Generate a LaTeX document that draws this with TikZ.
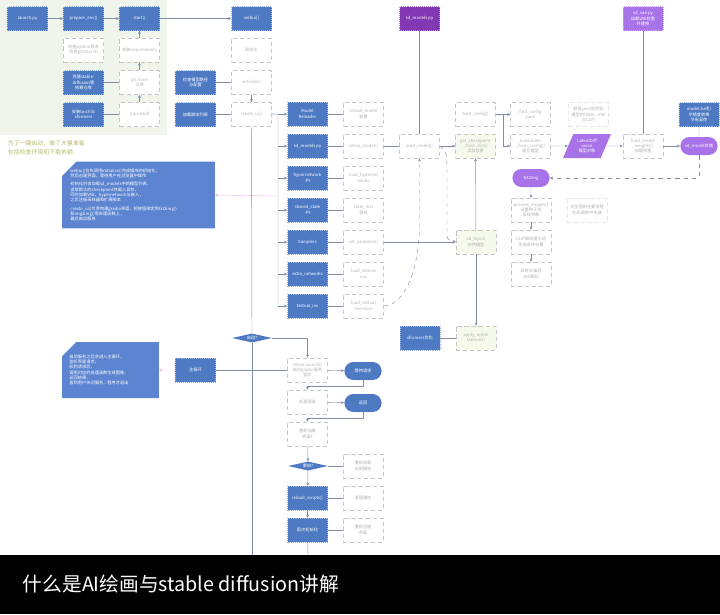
\documentclass[tikz,border=0pt]{standalone}
\usepackage{fontspec}
\setmainfont{Noto Sans CJK SC}
\usetikzlibrary{positioning, arrows.meta, shapes.geometric, shapes.misc}
\definecolor{SdBlue}{RGB}{78,122,196}
\definecolor{NoteBlue}{RGB}{92,132,208}
\definecolor{DeepPurple}{RGB}{130,56,178}
\definecolor{SdPurple}{RGB}{168,114,232}
\definecolor{LinkGray}{RGB}{126,140,168}
\definecolor{LiteGreen}{RGB}{246,250,236}
\definecolor{PanelGreen}{RGB}{239,245,235}
\definecolor{OliveText}{RGB}{184,186,110}
\definecolor{PinkLink}{RGB}{236,130,206}
\newcommand\tx{\fontsize{3}{3.8}\selectfont}
\tikzset{
  bluebox/.style={draw=SdBlue!55, densely dotted, fill=SdBlue, text=white, minimum width=1cm,
    minimum height=0.6cm, inner sep=1pt, align=center, font=\tx},
  litebox/.style={draw=gray!45, densely dashed, fill=white, text=gray!60, minimum width=1cm,
    minimum height=0.6cm, inner sep=1pt, align=center, font=\tx},
  greenbox/.style={litebox, fill=LiteGreen},
  deepbox/.style={bluebox, fill=DeepPurple, draw=DeepPurple!60},
  purplebox/.style={bluebox, fill=SdPurple, draw=SdPurple!60},
  pillbox/.style={rounded rectangle, fill=SdPurple, text=white, minimum width=1cm,
    minimum height=0.45cm, inner sep=1pt, font=\tx},
  bluepill/.style={pillbox, fill=SdBlue},
  decbox/.style={diamond, aspect=2, fill=SdBlue, text=white, minimum width=1cm,
    inner sep=0pt, font=\tx},
  parabox/.style={trapezium, trapezium left angle=63, trapezium right angle=117,
    trapezium stretches=true, fill=SdPurple, text=white, minimum width=1.2cm,
    minimum height=0.6cm, inner sep=0pt, align=center, font=\tx},
  notebox/.style={chamfered rectangle, chamfered rectangle corners=north west,
    chamfered rectangle xsep=0.18cm, chamfered rectangle ysep=0.18cm, fill=NoteBlue,
    text=white, align=left, font=\tx, inner sep=0pt},
  link/.style={draw=LinkGray, line width=0.3pt},
  arr/.style={link, -{Stealth[length=2.2pt, width=2pt]}},
  dlink/.style={link, dashed},
  pinkarr/.style={draw=PinkLink!60, line width=0.3pt, -{Stealth[length=2.2pt, width=2.4pt]}},
}

\begin{document}
\begin{tikzpicture}[x=0.025cm, y=-0.025cm]
  \useasboundingbox (0,0) rectangle (720,614);
  \fill[PanelGreen] (0,0) rectangle (167,135);

  % launch row
  \node[bluebox] (launch) at (27.5,18.5) {launch.py};
  \node[bluebox] (prepenv) at (83.5,18.5) {prepare\_env()};
  \node[bluebox] (start) at (139.5,18.5) {start()};
  \node[bluebox] (webui) at (251.5,18.5) {webui()};
  \node[deepbox] (sdmodel) at (419.5,18.5) {sd\_models.py};
  \node[purplebox] (vaepy) at (643,18.5) {sd\_vae.py\\ 加载VAE权重\\ 并替换};

  \node[litebox] (envdoc) at (83.5,50) {检查python版本\\ 检查git与torch};
  \node[litebox] (chk1) at (139.5,50) {安装requirements};
  \node[litebox] (chk2) at (139.5,82.5) {git clone\\ 仓库};
  \node[litebox] (chk3) at (139.5,114.5) {pip install};
  \node[bluebox] (repo) at (83.5,82.5) {克隆stable-\\ diffusion等\\ 依赖仓库};
  \node[bluebox] (torch) at (83.5,114.5) {安装torch与\\ xformers};

  \node[litebox] (initdoc) at (251.5,50) {初始化};
  \node[litebox] (init1) at (251.5,82.5) {initialize()};
  \node[litebox] (init2) at (251.5,114.5) {create\_ui()};
  \node[bluebox] (path) at (195.5,82.5) {检查模型路径\\ 与配置};
  \node[bluebox] (scripts) at (195.5,114.5) {加载脚本列表};

  \node[anchor=north west, align=left, text=OliveText, font=\fontsize{4.2}{5.8}\selectfont]
    (tip) at (3,136) {为了一键启动，做了大量准备\\ 包括检查环境和下载依赖};

  \draw[arr] (launch) -- (prepenv);
  \draw[arr] (prepenv) -- (start);
  \draw[arr] (start) -- (webui);
  \draw[arr] (chk3) -- (chk2);
  \draw[arr] (chk2) -- (chk1);
  \draw[arr] (chk1) -- (start);
  \draw[link] (repo) -- (chk2);
  \draw[link] (torch) -- (chk3);
  \draw[link] (path) -- (init1);
  \draw[link] (scripts) -- (init2);
  \draw[arr] (init1) -- (init2);

  % modules column
  \coordinate (bus) at (278,114);
  \foreach \i/\yy/\ma/\sa in {1/114/Model\\ Reloader/reload\_model\\ 权重,
      2/146/sd\_models.py/setup\_model(),
      3/178/hypernetwork\\ .py/load\_hypernet\\ works,
      4/210/shared\_state\\ .py/state\_dict\\ 保存,
      5/242/Samplers/set\_samplers(),
      6/274/extra\_networks/load\_extensi\\ ons,
      7/306/textual\_inv/load\_textual\\ inversion}{
    \node[bluebox] (m\i) at (307.5,\yy) {\ma};
    \node[litebox] (s\i) at (363.5,\yy) {\sa};
    \draw[arr] (278,\yy) -- (m\i);
    \draw[link] (m\i) -- (s\i);
  }
  \draw[link] (init2) -- (bus) -- (278,306);

  \node[litebox] (loadm) at (419.5,146) {load\_model()};
  \node[litebox] (c4a) at (475.5,114.5) {load\_config()};
  \node[greenbox] (c4b) at (475.5,146) {get\_checkpoint\\ \_state\_dict()\\ 读取权重};
  \node[litebox] (c5a) at (530.5,114.5) {find\_config\\ yaml};
  \node[litebox] (c5b) at (530.5,146) {instantiate\\ \_from\_config()\\ 建立模型};
  \node[parabox] (para) at (587,146) {LatentDiff\\ usion\\ 模型对象};
  \node[litebox, draw=gray!20] (cfgnote) at (588.5,114.5) {根据yaml实例化\\ 模型的UNet、VAE\\ 与CLIP};
  \node[litebox] (c6) at (643,146) {load\_model\\ \_weights()\\ 加载权重};
  \node[bluebox] (half) at (699,114.5) {model.half()\\ 半精度转换\\ 节省显存};
  \node[pillbox] (gen) at (699,146) {sd\_model就绪};
  \node[pillbox] (txt) at (531,178) {txt2img};
  \node[litebox] (d1) at (531,210) {process\_images()\\ 设置种子与\\ 采样参数};
  \node[litebox] (d2) at (531,242) {CLIP编码提示词\\ 生成条件向量};
  \node[litebox] (d3) at (531,274) {采样去噪后\\ VAE解码};
  \node[litebox, draw=gray!20] (dnote) at (587,210) {文生图的主要流程\\ 在此函数中完成};
  \node[greenbox] (mid1) at (476,242) {sd\_hijack\\ 劫持模型};
  \node[greenbox] (mid2) at (476,338) {apply\_optim\\ izations()};
  \node[bluebox] (optim) at (420,338) {xformers优化};

  \draw[link] (sdmodel) -- (loadm);
  \draw[link] (s2) -- (loadm);
  \draw[arr] (loadm) -- (c4b);
  \coordinate (fork) at (503,114.5);
  \draw[link] (c4a) -- (fork);
  \draw[arr] (fork) -- (c5a);
  \draw[arr] (fork) |- (c5b);
  \draw[arr] (c5b) -- (para);
  \draw[arr] (para) -- (c6);
  \draw[link] (vaepy) -- (c6);
  \draw[arr] (c6) -- (gen);
  \draw[link] (half) -- (gen);
  \draw[dlink, -{Stealth[length=2.2pt, width=2pt]}] (gen.south) |- (txt.east);
  \draw[arr] (txt) -- (d1);
  \draw[arr] (d1) -- (d2);
  \draw[arr] (d2) -- (d3);
  \draw[arr] (s5) -- (mid1);
  \draw[arr] (mid1) -- (c4b);
  \draw[arr] (mid1) -- (mid2);
  \draw[link] (optim) -- (mid2);
  \draw[dlink, -{Stealth[length=2.2pt, width=2pt]}] (s7.east) .. controls (405,305) and (419,270) .. (419.5,225) -- (loadm.south);
  \draw[dlink, -{Stealth[length=2.2pt, width=2pt]}] (loadm.east) .. controls (447,152) .. (447,175) -- (447,228) .. controls (447,240) .. (mid1.west);

  % notes on the left
  \node[notebox, minimum width=3.82cm, minimum height=1.6cm, text width=3.4cm] (note1) at (138.5,195)
    {webui()会先调用initialize()完成模块的初始化，\\ 然后创建界面，等待用户在浏览器中操作\\[2pt]
     初始化时会加载sd\_models中的模型列表，\\ 读取默认的checkpoint并载入显存，\\ 同时加载VAE、hypernetwork与嵌入，\\ 之后注册采样器和扩展脚本\\[2pt]
     create\_ui()负责构建gradio界面，把按钮绑定到txt2img()\\ 和img2img()等处理函数上，\\ 最后启动服务};
  \coordinate (pink1) at (278,196);
  \draw[pinkarr] (pink1) -- (note1.east);

  \node[notebox, minimum width=2.42cm, minimum height=1.4cm, text width=2.05cm] (note2) at (110.5,370)
    {启动服务之后会进入主循环，\\ 监听界面请求，\\ 收到请求后，\\ 调用对应的处理函数生成图像，\\ 返回结果，\\ 直到用户关闭服务，程序才退出};
  \node[bluebox] (runb) at (195.5,370) {主循环};
  \draw[pinkarr] (runb) -- (note2);

  % main loop
  \node[decbox] (dec1) at (252,338) {启动?};
  \node[litebox] (e1) at (307.5,370) {demo.launch()\\ 启动gradio服务\\ 监听};
  \node[bluepill] (pl1) at (363,371) {等待请求};
  \node[litebox] (e2) at (307.5,402) {处理请求};
  \node[bluepill] (pl2) at (363,403) {返回};
  \node[litebox] (e3) at (307.5,434) {重新加载\\ 界面?};
  \node[decbox] (dec2) at (308,466) {重启?};
  \node[litebox] (n3) at (363,466) {重新加载\\ 全部脚本};
  \node[bluebox] (f1) at (307.5,498) {reload\_scripts()};
  \node[litebox] (g1) at (363,498) {清理缓存};
  \node[bluebox] (f2) at (307.5,530) {再次初始化};
  \node[litebox] (g2) at (363,530) {重新创建\\ 界面};

  \coordinate (bot1) at (252,556);
  \coordinate (bot2) at (308,556);
  \draw[link] (init2) -- (dec1);
  \draw[link] (dec1) -- (bot1);
  \draw[link] (runb) -- (e1);
  \draw[arr] (dec1) -| (e1);
  \draw[arr] (e1) -- (pl1);
  \draw[arr] (pl1.south) -- ++(0,6) -| (e2.north);
  \draw[arr] (e2) -- (pl2);
  \draw[arr] (pl2.south) -- ++(0,6) -| (e3.north);
  \draw[arr] (e3) -- (dec2);
  \draw[link] (dec2) -- (n3);
  \draw[arr] (dec2) -- (f1);
  \draw[link] (f1) -- (g1);
  \draw[arr] (f1) -- (f2);
  \draw[link] (f2) -- (g2);
  \draw[link] (f2) -- (bot2);

  % caption bar
  \fill[black] (0,555) rectangle (720,614);
  \node[anchor=west, text=white, font=\fontsize{14}{16}\selectfont] (title) at (18,584)
    {什么是AI绘画与stable diffusion讲解};
\end{tikzpicture}
\end{document}
